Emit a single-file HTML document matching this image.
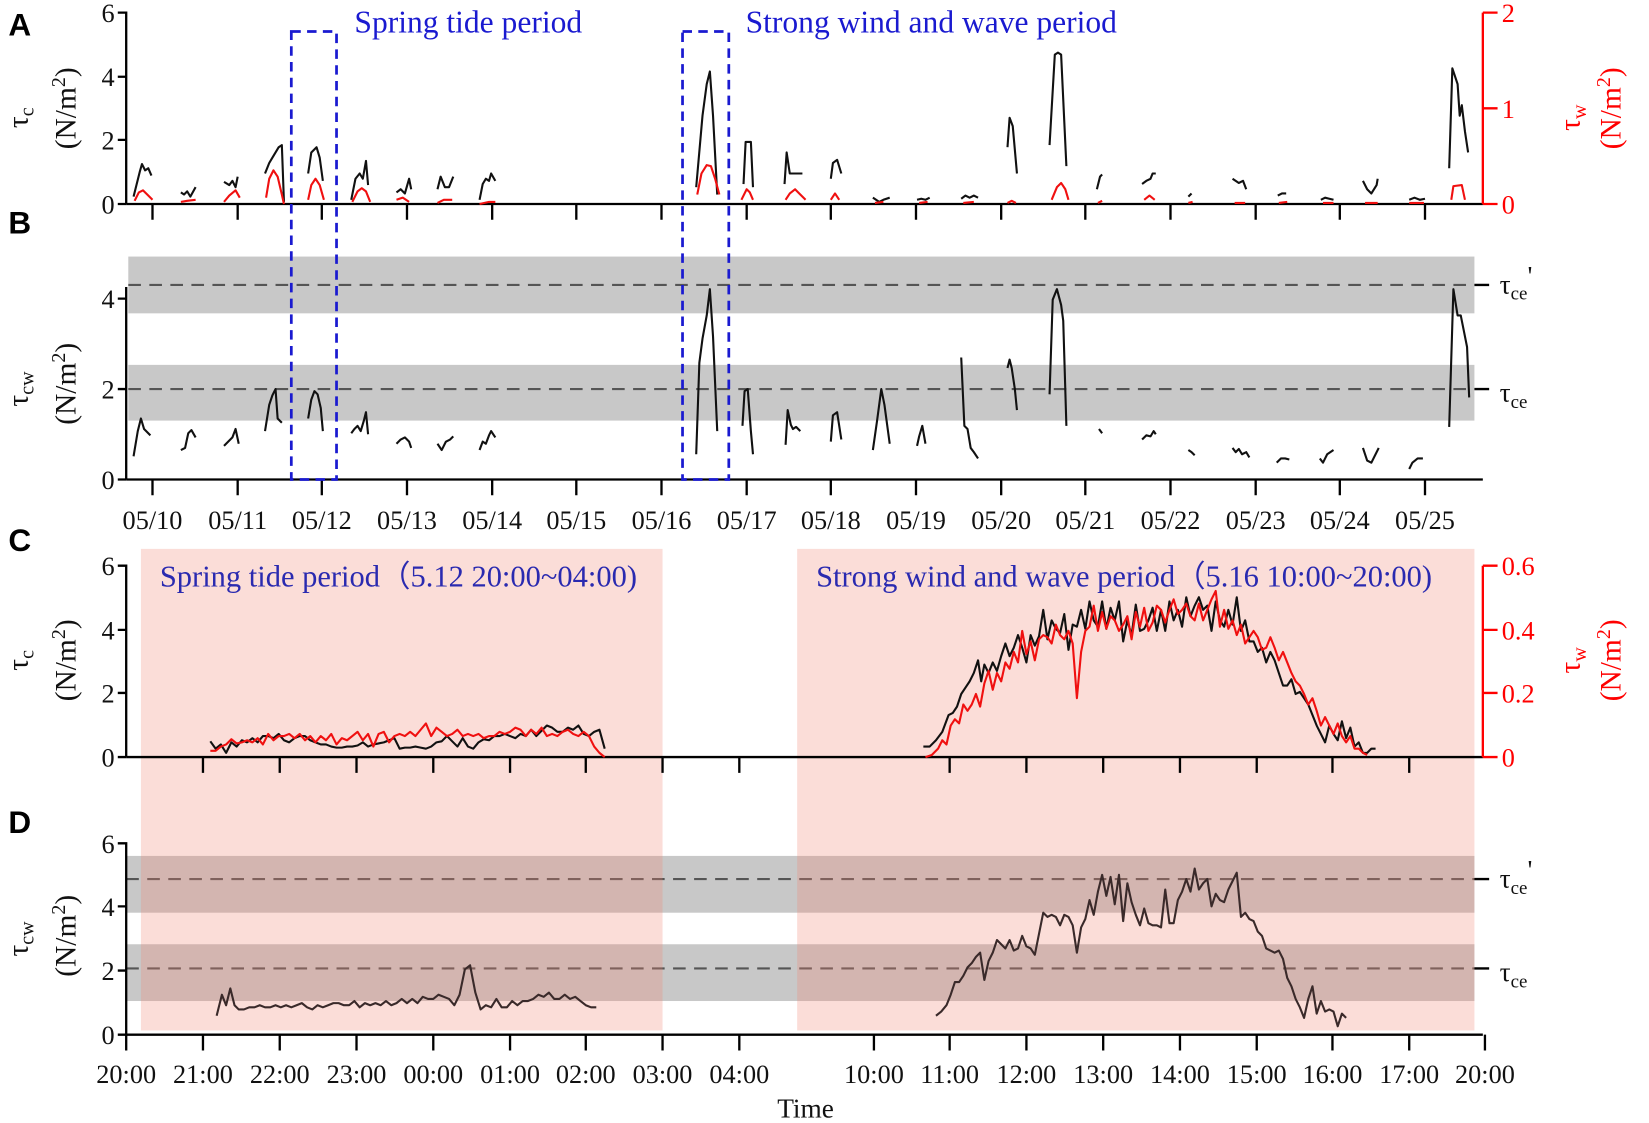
<!DOCTYPE html>
<html><head><meta charset="utf-8"><style>
html,body{margin:0;padding:0;background:#fff;}
svg{display:block;}
text{font-family:"Liberation Serif",serif;}
.t{font-size:25px;fill:#111;}
.lab{font-family:"Liberation Sans",sans-serif;font-weight:bold;font-size:30px;fill:#000;}
.k{fill:none;stroke:#111;stroke-width:2;stroke-linejoin:round;}
.r{fill:none;stroke:#f01010;stroke-width:2;stroke-linejoin:round;}
.ax{stroke:#000;stroke-width:2.2;fill:none;}
.rax{stroke:#f00;stroke-width:2.2;fill:none;}
.dash{stroke:#555;stroke-width:2;stroke-dasharray:12,8;fill:none;}
.box{stroke:#1a1ad0;stroke-width:2.6;stroke-dasharray:9,6;fill:none;}
</style></head><body>
<svg width="1649" height="1123" viewBox="0 0 1568 1068" preserveAspectRatio="none" xmlns="http://www.w3.org/2000/svg">
<text class="lab" x="8" y="34">A</text>
<text class="lab" x="8" y="222">B</text>
<text class="lab" x="8" y="524">C</text>
<text class="lab" x="8" y="792">D</text>

<rect x="122" y="244" width="1280" height="54" fill="#c8c8c8"/>
<rect x="122" y="347" width="1280" height="53" fill="#c8c8c8"/>
<line class="dash" x1="122" y1="271" x2="1402" y2="271"/>
<line class="dash" x1="122" y1="370" x2="1402" y2="370"/>

<rect x="120" y="814" width="1282" height="54" fill="#c8c8c8"/>
<rect x="120" y="898" width="1282" height="54" fill="#c8c8c8"/>
<line class="dash" x1="120" y1="836" x2="1402" y2="836"/>
<line class="dash" x1="120" y1="921" x2="1402" y2="921"/>
<rect x="134" y="522" width="496" height="458" fill="#f08070" fill-opacity="0.27"/>
<rect x="758" y="522" width="644" height="458" fill="#f08070" fill-opacity="0.27"/>

<!-- Axes A -->
<path class="ax" d="M112,12H120V194M112,73H120M112,133H120M112,194H120"/>
<line class="ax" x1="120" y1="194" x2="1410" y2="194"/>
<path class="rax" d="M1410,12V194M1410,12H1424M1410,103H1424M1410,194H1424"/>
<g class="t" text-anchor="end"><text x="109" y="21">6</text><text x="109" y="82">4</text><text x="109" y="142">2</text><text x="109" y="203">0</text></g>
<g class="t"><text x="1428" y="21" style="fill:#f00">2</text><text x="1428" y="112" style="fill:#f00">1</text><text x="1428" y="203" style="fill:#f00">0</text></g>
<path class="ax" d="M145,194v15M226,194v15M306,194v15M387,194v15M468,194v15M548,194v15M629,194v15M710,194v15M790,194v15M871,194v15M952,194v15M1032,194v15M1113,194v15M1194,194v15M1274,194v15M1355,194v15"/>

<!-- Axes B -->
<path class="ax" d="M120,273V456M112,284H120M112,370H120M112,456H120"/>
<line class="ax" x1="120" y1="456" x2="1410" y2="456"/>
<g class="t" text-anchor="end"><text x="109" y="293">4</text><text x="109" y="379">2</text><text x="109" y="465">0</text></g>
<path class="ax" d="M145,456v15M226,456v15M306,456v15M387,456v15M468,456v15M548,456v15M629,456v15M710,456v15M790,456v15M871,456v15M952,456v15M1032,456v15M1113,456v15M1194,456v15M1274,456v15M1355,456v15"/>
<g class="t" text-anchor="middle">
<text x="145" y="503">05/10</text><text x="226" y="503">05/11</text><text x="306" y="503">05/12</text><text x="387" y="503">05/13</text><text x="468" y="503">05/14</text><text x="548" y="503">05/15</text><text x="629" y="503">05/16</text><text x="710" y="503">05/17</text><text x="790" y="503">05/18</text><text x="871" y="503">05/19</text><text x="952" y="503">05/20</text><text x="1032" y="503">05/21</text><text x="1113" y="503">05/22</text><text x="1194" y="503">05/23</text><text x="1274" y="503">05/24</text><text x="1355" y="503">05/25</text>
</g>
<path class="ax" d="M1402,271h14M1402,370h14"/>
<text class="t" x="1426" y="279" style="font-size:26px">τ<tspan font-size="18" dy="6">ce</tspan><tspan dy="-14">'</tspan></text>
<text class="t" x="1426" y="382" style="font-size:26px">τ<tspan font-size="18" dy="6">ce</tspan></text>

<!-- Axes C -->
<path class="ax" d="M112,538H120V720M112,599H120M112,659H120M112,720H120"/>
<line class="ax" x1="120" y1="720" x2="1410" y2="720"/>
<path class="rax" d="M1410,538V720M1410,538H1424M1410,599H1424M1410,659H1424M1410,720H1424"/>
<g class="t" text-anchor="end"><text x="109" y="547">6</text><text x="109" y="608">4</text><text x="109" y="668">2</text><text x="109" y="729">0</text></g>
<g class="t"><text x="1428" y="547" style="fill:#f00">0.6</text><text x="1428" y="608" style="fill:#f00">0.4</text><text x="1428" y="668" style="fill:#f00">0.2</text><text x="1428" y="729" style="fill:#f00">0</text></g>
<path class="ax" d="M193,720v15M266,720v15M339,720v15M412,720v15M485,720v15M557,720v15M630,720v15M703,720v15M903,720v15M976,720v15M1049,720v15M1122,720v15M1195,720v15M1267,720v15M1340,720v15"/>

<!-- Axes D -->
<path class="ax" d="M112,802H120V984M112,862H120M112,923H120M112,984H120"/>
<line class="ax" x1="120" y1="984" x2="1410" y2="984"/>
<g class="t" text-anchor="end"><text x="109" y="811">6</text><text x="109" y="871">4</text><text x="109" y="932">2</text><text x="109" y="993">0</text></g>
<path class="ax" d="M120,984v15M193,984v15M266,984v15M339,984v15M412,984v15M485,984v15M557,984v15M630,984v15M703,984v15M831,984v15M903,984v15M976,984v15M1049,984v15M1122,984v15M1195,984v15M1267,984v15M1340,984v15M1412,984v15"/>
<g class="t" text-anchor="middle">
<text x="120" y="1030">20:00</text><text x="193" y="1030">21:00</text><text x="266" y="1030">22:00</text><text x="339" y="1030">23:00</text><text x="412" y="1030">00:00</text><text x="485" y="1030">01:00</text><text x="557" y="1030">02:00</text><text x="630" y="1030">03:00</text><text x="703" y="1030">04:00</text><text x="831" y="1030">10:00</text><text x="903" y="1030">11:00</text><text x="976" y="1030">12:00</text><text x="1049" y="1030">13:00</text><text x="1122" y="1030">14:00</text><text x="1195" y="1030">15:00</text><text x="1267" y="1030">16:00</text><text x="1340" y="1030">17:00</text><text x="1412" y="1030">20:00</text>
<text x="766" y="1063" style="font-size:26px">Time</text>
</g>
<path class="ax" d="M1402,836h14M1402,921h14"/>
<text class="t" x="1426" y="844" style="font-size:26px">τ<tspan font-size="18" dy="6">ce</tspan><tspan dy="-14">'</tspan></text>
<text class="t" x="1426" y="933" style="font-size:26px">τ<tspan font-size="18" dy="6">ce</tspan></text>

<!-- Y labels -->
<g class="t" style="font-size:28px">
<text transform="translate(26,112) rotate(-90)" text-anchor="middle">τ<tspan font-size="19" dy="6">c</tspan></text>
<text transform="translate(72,103) rotate(-90)" text-anchor="middle">(N/m<tspan font-size="19" dy="-10">2</tspan><tspan dy="10">)</tspan></text>
<text transform="translate(26,370) rotate(-90)" text-anchor="middle">τ<tspan font-size="19" dy="6">cw</tspan></text>
<text transform="translate(72,365) rotate(-90)" text-anchor="middle">(N/m<tspan font-size="19" dy="-10">2</tspan><tspan dy="10">)</tspan></text>
<text transform="translate(26,628) rotate(-90)" text-anchor="middle">τ<tspan font-size="19" dy="6">c</tspan></text>
<text transform="translate(72,628) rotate(-90)" text-anchor="middle">(N/m<tspan font-size="19" dy="-10">2</tspan><tspan dy="10">)</tspan></text>
<text transform="translate(26,893) rotate(-90)" text-anchor="middle">τ<tspan font-size="19" dy="6">cw</tspan></text>
<text transform="translate(72,890) rotate(-90)" text-anchor="middle">(N/m<tspan font-size="19" dy="-10">2</tspan><tspan dy="10">)</tspan></text>
<text transform="translate(1502,112) rotate(-90)" text-anchor="middle" style="fill:#f00">τ<tspan font-size="19" dy="6">w</tspan></text>
<text transform="translate(1541,103) rotate(-90)" text-anchor="middle" style="fill:#f00">(N/m<tspan font-size="19" dy="-10">2</tspan><tspan dy="10">)</tspan></text>
<text transform="translate(1502,628) rotate(-90)" text-anchor="middle" style="fill:#f00">τ<tspan font-size="19" dy="6">w</tspan></text>
<text transform="translate(1541,628) rotate(-90)" text-anchor="middle" style="fill:#f00">(N/m<tspan font-size="19" dy="-10">2</tspan><tspan dy="10">)</tspan></text>
</g>

<text x="337" y="31" style="font-size:30px;fill:#1a1ad0">Spring tide period</text>
<text x="709" y="31" style="font-size:30px;fill:#1a1ad0">Strong wind and wave period</text>
<text x="152" y="558" style="font-size:29px;fill:#2a2ab0">Spring tide period（5.12 20:00~04:00)</text>
<text x="776" y="558" style="font-size:29px;fill:#2a2ab0">Strong wind and wave period（5.16 10:00~20:00)</text>

<g class="k">
<polyline points="127,187 133,163 135,156 138,162 141,160 144,167"/>
<polyline points="172,183 175,185 178,182 181,187 186,178"/>
<polyline points="213,173 218,176 221,172 224,178 226,168"/>
<polyline points="252,165 256,155 259,150 262,145 265,140 268,138 270,192"/>
<polyline points="293,165 296,145 301,140 304,150 307,172"/>
<polyline points="334,190 338,170 342,165 345,170 348,153 350,176"/>
<polyline points="377,183 381,180 385,184 389,170 391,180"/>
<polyline points="416,180 419,168 423,178 427,178 431,168"/>
<polyline points="456,190 459,175 462,170 465,172 467,165 471,172"/>
<polyline points="662,178 668,110 672,80 675,68 678,110 682,185"/>
<polyline points="707,175 709,135 714,135 716,178"/>
<polyline points="746,175 748,145 751,165 763,165"/>
<polyline points="790,170 792,155 796,152 800,165"/>
<polyline points="830,188 833,190 836,192 840,190 846,188"/>
<polyline points="872,190 876,189 880,190 884,188"/>
<polyline points="914,189 918,186 922,188 926,186 930,188"/>
<polyline points="958,140 960,112 963,120 967,165"/>
<polyline points="998,138 1003,52 1006,50 1009,52 1014,158"/>
<polyline points="1043,180 1046,168 1048,166"/>
<polyline points="1086,175 1090,172 1094,170 1096,165 1099,165"/>
<polyline points="1130,187 1133,184"/>
<polyline points="1172,170 1175,172 1178,174 1182,172 1185,180"/>
<polyline points="1215,186 1219,184 1223,184"/>
<polyline points="1256,190 1260,188 1264,189 1268,190"/>
<polyline points="1296,172 1300,180 1304,184 1309,176 1310,170"/>
<polyline points="1340,190 1345,188 1350,190 1355,189"/>
<polyline points="1378,160 1381,65 1386,80 1388,110 1390,100 1393,125 1396,145"/>
</g>
<g class="r">
<polyline points="128,191 132,183 136,181 140,185 145,190"/>
<polyline points="172,192 178,191 186,190"/>
<polyline points="213,192 218,186 224,181 228,188"/>
<polyline points="253,188 256,170 260,162 264,168 268,185 270,194"/>
<polyline points="293,190 296,176 300,170 304,176 308,190"/>
<polyline points="335,192 340,182 344,179 348,182 352,192"/>
<polyline points="377,190 383,188 389,192"/>
<polyline points="416,193 422,190 430,190"/>
<polyline points="456,194 465,192 471,192"/>
<polyline points="663,185 667,165 672,157 676,158 680,170 684,185"/>
<polyline points="705,190 710,180 713,183 716,190"/>
<polyline points="747,190 751,184 756,180 760,184 766,190"/>
<polyline points="790,190 794,184 798,190"/>
<polyline points="832,193 840,192"/><polyline points="874,193 882,192"/><polyline points="916,193 926,192"/>
<polyline points="958,193 962,191 966,193"/>
<polyline points="1000,190 1005,178 1009,174 1013,180 1016,190"/>
<polyline points="1044,193 1048,191"/>
<polyline points="1088,190 1093,186 1098,190"/>
<polyline points="1130,193 1134,192"/><polyline points="1174,193 1184,193"/><polyline points="1216,193 1224,192"/><polyline points="1258,193 1268,193"/><polyline points="1298,193 1310,193"/><polyline points="1340,193 1354,193"/>
<polyline points="1380,190 1382,177 1390,176 1393,190"/>
</g>

<g class="k">
<polyline points="127,434 131,410 134,398 137,408 143,414"/>
<polyline points="172,428 176,426 179,412 182,409 186,416"/>
<polyline points="213,424 217,420 221,416 224,408 227,422"/>
<polyline points="252,410 256,385 259,376 262,370 264,398 268,402"/>
<polyline points="293,398 296,380 299,372 302,375 305,388 307,410"/>
<polyline points="334,412 337,408 340,405 343,410 346,400 348,392 350,413"/>
<polyline points="377,422 381,418 385,416 389,420 391,426"/>
<polyline points="416,422 420,428 424,420 428,418 431,415"/>
<polyline points="456,428 459,420 462,422 465,414 467,410 471,416"/>
<polyline points="662,432 665,345 668,322 672,300 675,275 678,320 682,410"/>
<polyline points="706,405 708,372 711,370 714,410 716,432"/>
<polyline points="747,423 749,390 752,404 754,408 757,406 761,410"/>
<polyline points="790,420 792,395 796,392 798,405 800,418"/>
<polyline points="830,428 834,400 838,370 841,385 846,422"/>
<polyline points="872,424 874,415 877,405 880,422"/>
<polyline points="914,340 917,405 920,408 923,426 926,430 930,436"/>
<polyline points="958,350 960,342 962,350 965,370 967,390"/>
<polyline points="998,375 1001,285 1005,275 1009,290 1011,305 1014,405"/>
<polyline points="1045,408 1048,412"/>
<polyline points="1086,418 1090,414 1094,415 1097,410 1099,413"/>
<polyline points="1130,428 1133,430 1136,433"/>
<polyline points="1172,426 1175,430 1178,427 1181,432 1185,430 1188,435"/>
<polyline points="1214,440 1218,436 1222,436 1226,437"/>
<polyline points="1255,436 1258,440 1262,432 1268,428"/>
<polyline points="1296,426 1300,438 1304,440 1308,432 1311,426"/>
<polyline points="1340,446 1343,440 1348,436 1353,436"/>
<polyline points="1378,406 1382,275 1386,300 1389,300 1392,315 1395,330 1397,378"/>
</g>

<rect class="box" x="277" y="30" width="43" height="426"/>
<rect class="box" x="649" y="30" width="44" height="426"/>

<polyline class="k" points="200,705 205,712 210,708 215,716 220,706 225,710 230,704 235,706 240,702 245,706 250,700 255,700 260,702 265,698 270,704 275,706 280,702 285,700 290,700 295,704 300,706 305,708 310,708 315,710 320,711 325,711 330,710 335,710 340,709 345,706 350,710 355,708 360,707 365,706 370,704 375,702 380,712 385,711 390,711 395,710 400,711 405,712 410,710 415,706 420,705 425,700 430,705 435,710 440,702 445,710 450,712 455,706 460,703 465,704 470,700 475,700 480,698 485,700 490,702 495,698 500,700 505,694 510,700 515,695 520,690 525,692 530,696 535,696 540,692 545,694 550,690 555,698 560,700 565,696 570,694 575,712"/>
<polyline class="r" points="200,714 205,714 210,710 215,708 220,703 225,707 230,706 235,704 240,706 245,702 250,708 255,698 260,704 265,700 270,700 275,698 280,702 285,698 290,704 295,700 300,706 305,700 310,704 315,698 320,708 325,702 330,704 335,700 340,696 345,704 350,698 355,710 360,698 365,696 370,706 375,700 380,698 385,700 390,696 395,700 400,694 405,688 410,700 415,692 420,696 425,700 430,698 435,694 440,700 445,698 450,700 455,698 460,702 465,700 470,700 475,696 480,698 485,696 490,692 495,694 500,700 505,694 510,698 515,692 520,700 525,698 530,700 535,696 540,694 545,698 550,700 555,696 560,700 565,710 570,716 575,720"/>
<polyline class="k" points="878,710 884,710 890,704 896,696 902,680 906,678 910,672 914,660 918,654 922,648 926,640 930,628 933,648 936,632 940,640 944,630 948,638 952,624 956,612 960,624 964,616 968,604 972,616 976,630 980,604 984,614 988,605 992,580 996,608 1000,590 1004,598 1008,602 1012,584 1016,618 1020,594 1024,596 1028,580 1032,598 1036,572 1040,590 1044,596 1048,572 1052,598 1056,578 1060,590 1064,572 1068,610 1072,590 1076,604 1080,575 1084,600 1088,598 1092,590 1096,578 1100,600 1104,580 1108,600 1112,572 1116,590 1120,580 1124,596 1128,568 1132,586 1136,576 1140,568 1144,580 1148,576 1152,600 1156,572 1160,590 1164,596 1168,580 1172,594 1176,568 1180,600 1184,590 1188,610 1192,610 1196,620 1200,616 1204,630 1208,620 1212,628 1216,640 1220,652 1224,652 1228,646 1232,660 1236,658 1240,664 1244,670 1248,680 1252,690 1256,698 1260,706 1264,690 1268,698 1272,704 1276,686 1280,702 1284,692 1288,710 1292,706 1296,716 1300,716 1304,712 1308,712"/>
<polyline class="r" points="880,720 886,718 892,712 896,704 900,708 904,690 908,684 912,688 916,670 920,676 924,670 928,660 932,672 936,650 940,638 944,656 948,640 952,648 956,630 960,636 964,620 968,630 972,600 976,622 980,610 984,628 988,608 992,604 996,606 1000,612 1004,594 1008,604 1012,608 1016,600 1020,612 1024,664 1028,620 1032,600 1036,596 1040,576 1044,600 1048,582 1052,598 1056,586 1060,590 1064,600 1068,594 1072,586 1076,608 1080,582 1084,596 1088,578 1092,600 1096,592 1100,576 1104,580 1108,592 1112,580 1116,570 1120,584 1124,580 1128,574 1132,586 1136,590 1140,574 1144,590 1148,580 1152,570 1156,562 1160,596 1164,580 1168,598 1172,590 1176,604 1180,594 1184,612 1188,606 1192,600 1196,606 1200,618 1204,616 1208,606 1212,616 1216,628 1220,620 1224,630 1228,640 1232,648 1236,652 1240,660 1244,670 1248,664 1252,676 1256,690 1260,682 1264,690 1268,698 1272,688 1276,700 1280,706 1284,700 1288,712 1292,712 1296,716 1300,718"/>

<g class="k" style="stroke:#3a2a2a">
<polyline points="206,966 211,946 215,956 219,940 223,956 227,960 232,960 237,958 242,958 247,956 252,958 257,958 262,956 267,958 272,956 277,958 282,956 287,954 292,958 297,960 302,956 307,958 312,956 317,954 322,954 327,956 332,956 337,952 342,958 347,954 352,956 357,954 362,956 367,952 372,956 377,954 382,950 387,954 392,950 397,954 402,948 407,950 412,950 417,946 422,948 427,950 432,956 437,946 442,922 447,918 452,944 457,960 462,956 467,958 472,950 477,958 482,958 487,952 492,956 497,952 502,952 507,950 512,946 517,948 522,944 527,950 532,950 537,946 542,950 547,948 552,952 557,956 562,958 567,958"/>
<polyline points="890,966 895,962 900,956 904,946 908,934 912,934 916,928 920,920 924,916 928,910 932,906 936,932 940,914 944,906 948,894 952,898 956,902 960,894 964,904 968,902 972,890 976,900 980,902 984,908 988,888 992,868 996,872 1000,870 1004,872 1008,880 1012,870 1016,872 1020,880 1024,906 1028,882 1032,874 1036,856 1040,870 1044,848 1048,832 1052,852 1056,834 1060,860 1064,832 1068,876 1072,840 1076,858 1080,870 1084,880 1088,864 1092,878 1096,880 1100,880 1104,882 1108,846 1112,878 1116,878 1120,856 1124,848 1128,836 1132,848 1136,826 1140,846 1144,840 1148,836 1152,862 1156,850 1160,856 1164,858 1168,846 1172,838 1176,830 1180,872 1184,868 1188,874 1192,876 1196,886 1200,890 1204,902 1208,904 1212,906 1216,904 1220,912 1224,930 1228,938 1232,950 1236,958 1240,968 1244,950 1248,938 1252,964 1256,952 1260,962 1264,960 1268,962 1272,976 1276,964 1280,968"/>
</g>
</svg>
</body></html>
